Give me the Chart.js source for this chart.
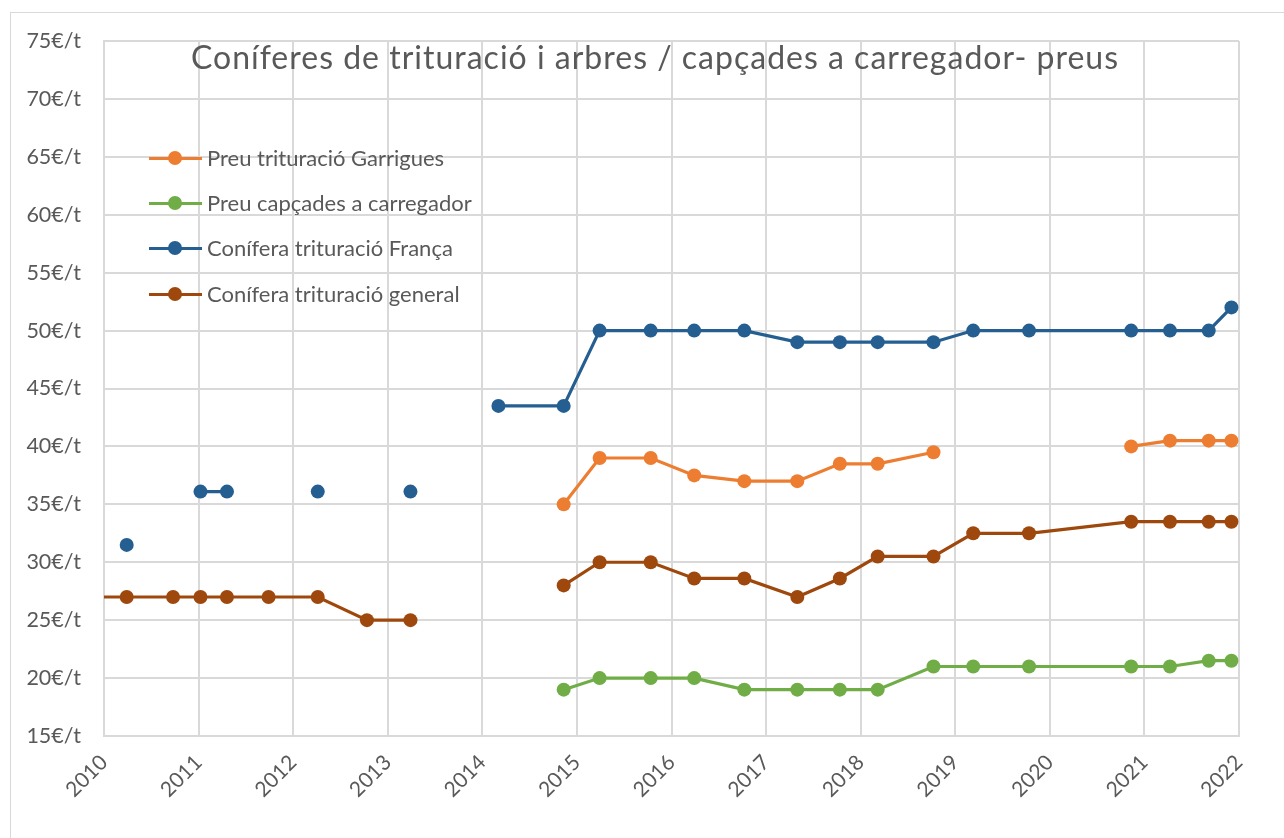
<!DOCTYPE html>
<html>
<head>
<meta charset="utf-8">
<script src="https://cdn.jsdelivr.net/npm/chart.js@4.4.1/dist/chart.umd.min.js"></script>
<style>
  html, body { margin: 0; padding: 0; background: #ffffff; }
  #wrap { position: relative; width: 1284px; height: 838px; overflow: hidden; background: #fff; }
  #frame { position: absolute; left: 10px; top: 12px; width: 1400px; height: 1000px; border: 1.5px solid #d9d9d9; box-sizing: border-box; }
  #c { position: absolute; left: 0; top: 0; }
  #title { position: absolute; left: 0; width: 1310px; top: 38px; text-align: center; font-family: Lato, "Open Sans", sans-serif; font-size: 32px; letter-spacing: 1px; color: #595959; white-space: nowrap; line-height: 38px; }
  #legend { position: absolute; left: 149px; top: 0; font-family: Lato, "Open Sans", sans-serif; font-size: 22px; color: #595959; }
  .item { position: absolute; left: 0; height: 26px; white-space: nowrap; }
  .sw { position: absolute; left: 0; top: 11.5px; width: 53px; height: 3px; }
  .dot { position: absolute; left: 19px; top: 6px; width: 14px; height: 14px; border-radius: 50%; }
  .lab { position: absolute; left: 58px; top: 0; line-height: 26px; }
</style>
</head>
<body>
<div id="wrap">
  <div id="frame"></div>
  <canvas id="c" width="1284" height="838"></canvas>
  <div id="title"></div>
  <div id="legend"></div>
</div>
<script>
// ---- Data (decimal years on a date-like axis) ----
const chartTitle = "Coníferes de trituració i arbres / capçades a carregador- preus";
const seriesNames = ["Preu trituració Garrigues", "Preu capçades a carregador", "Conífera trituració França", "Conífera trituració general"];
const seriesColors = ["#ED7D31", "#70AD47", "#255E91", "#9E480E"];

const dates = [2009.75, 2010.24, 2010.73, 2011.02, 2011.30, 2011.74, 2012.26, 2012.78, 2013.24, 2013.70,
               2014.17, 2014.86, 2015.24, 2015.78, 2016.24, 2016.77, 2017.33, 2017.78, 2018.18, 2018.77,
               2019.19, 2019.78, 2020.86, 2021.27, 2021.68, 2021.92];

const garrigues = [null, null, null, null, null, null, null, null, null, null,
                   null, 35, 39, 39, 37.5, 37, 37, 38.5, 38.5, 39.5,
                   null, null, 40, 40.5, 40.5, 40.5];
const capcades  = [null, null, null, null, null, null, null, null, null, null,
                   null, 19, 20, 20, 20, 19, 19, 19, 19, 21,
                   21, 21, 21, 21, 21.5, 21.5];
const franca    = [null, 31.5, null, 36.1, 36.1, null, 36.1, null, 36.1, null,
                   43.5, 43.5, 50, 50, 50, 50, 49, 49, 49, 49,
                   50, 50, 50, 50, 50, 52];
const general   = [27, 27, 27, 27, 27, 27, 27, 25, 25, null,
                   null, 28, 30, 30, 28.6, 28.6, 27, 28.6, 30.5, 30.5,
                   32.5, 32.5, 33.5, 33.5, 33.5, 33.5];

const yearLabels = ["2010","2011","2012","2013","2014","2015","2016","2017","2018","2019","2020","2021","2022"];
const yTickLabels = ["15€/t","20€/t","25€/t","30€/t","35€/t","40€/t","45€/t","50€/t","55€/t","60€/t","65€/t","70€/t","75€/t"];

// ---- Build ----
const allSeries = [garrigues, capcades, franca, general];
const datasets = allSeries.map((vals, i) => ({
  label: seriesNames[i],
  data: dates.map((d, k) => ({ x: d, y: vals[k] })),
  borderColor: seriesColors[i],
  backgroundColor: seriesColors[i],
  pointBackgroundColor: seriesColors[i],
  pointBorderColor: seriesColors[i],
  pointBorderWidth: 0,
  pointRadius: 7,
  pointHoverRadius: 7,
  borderWidth: 3.2,
  tension: 0,
  spanGaps: false,
  fill: false
}));

document.getElementById('title').textContent = chartTitle;
const legendEl = document.getElementById('legend');
const legendTops = [145, 190, 235, 281];
seriesNames.forEach((n, i) => {
  const it = document.createElement('div');
  it.className = 'item';
  it.style.top = legendTops[i] + 'px';
  it.innerHTML = '<div class="sw" style="background:' + seriesColors[i] + '"></div>' +
                 '<div class="dot" style="background:' + seriesColors[i] + '"></div>' +
                 '<div class="lab"></div>';
  it.querySelector('.lab').textContent = n;
  legendEl.appendChild(it);
});

const gridColor = '#d9d9d9';
new Chart(document.getElementById('c'), {
  type: 'line',
  data: { datasets },
  options: {
    responsive: false,
    animation: false,
    devicePixelRatio: 1,
    layout: { padding: { left: 0, top: 41, right: 45, bottom: 0 } },
    plugins: { legend: { display: false }, title: { display: false }, tooltip: { enabled: false } },
    scales: {
      x: {
        type: 'linear',
        min: 2010, max: 2022,
        afterFit: (s) => { s.height = 102; },
        ticks: {
          stepSize: 1,
          autoSkip: false,
          maxRotation: 45, minRotation: 45,
          padding: 14,
          color: '#595959',
          font: { family: 'Lato, "Open Sans", sans-serif', size: 21 },
          callback: (v) => yearLabels[Math.round(v - 2010)]
        },
        grid: { color: gridColor, lineWidth: 2, drawTicks: false },
        border: { color: gridColor, width: 2 }
      },
      y: {
        min: 15, max: 75,
        afterFit: (s) => { s.width = 104; },
        ticks: {
          stepSize: 5,
          padding: 23,
          color: '#595959',
          font: { family: 'Lato, "Open Sans", sans-serif', size: 21.5 },
          callback: (v) => yTickLabels[Math.round((v - 15) / 5)]
        },
        grid: { color: gridColor, lineWidth: 2, drawTicks: false },
        border: { color: gridColor, width: 2 }
      }
    }
  }
});
</script>
</body>
</html>
